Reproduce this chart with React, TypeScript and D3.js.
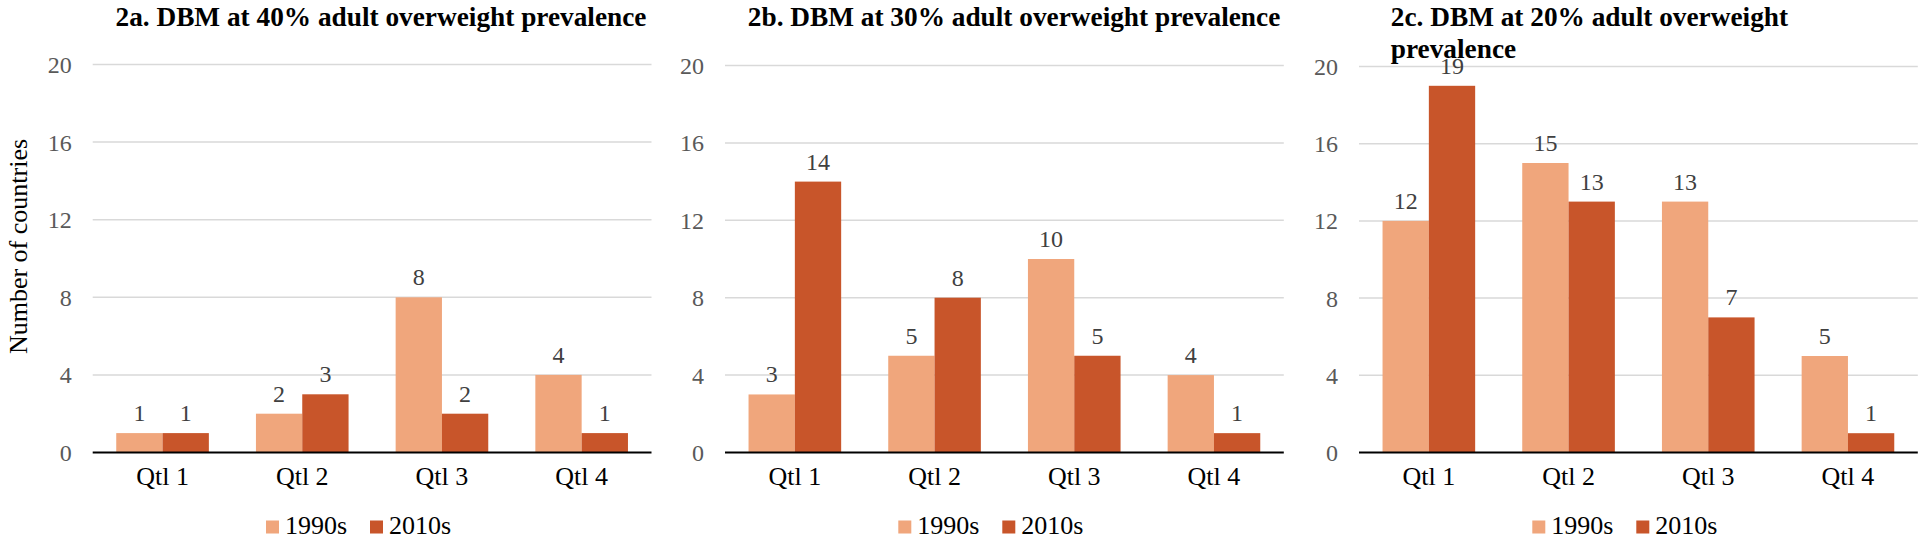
import React from "react";
import * as d3 from "d3";

const categories = ["Qtl 1", "Qtl 2", "Qtl 3", "Qtl 4"];
const seriesNames = ["1990s", "2010s"];
const yTicks = [0, 4, 8, 12, 16, 20];

const panelA1990 = [1, 2, 8, 4];
const panelA2010 = [1, 3, 2, 1];
const panelB1990 = [3, 5, 10, 4];
const panelB2010 = [14, 8, 5, 1];
const panelC1990 = [12, 15, 13, 5];
const panelC2010 = [19, 13, 7, 1];

const titleA = ["2a. DBM at 40% adult overweight prevalence"];
const titleB = ["2b. DBM at 30% adult overweight prevalence"];
const titleC = ["2c. DBM at 20% adult overweight", "prevalence"];

const yAxisTitle = "Number of countries";

const COLORS = ["#F0A67C", "#C8552A"];
const FONT = '"Liberation Serif", "Times New Roman", serif';

const panels = [
  { title: titleA, s1: panelA1990, s2: panelA2010, left: 92.7, top: 64.5, titleX: 115.5 },
  { title: titleB, s1: panelB1990, s2: panelB2010, left: 725, top: 65.5, titleX: 747.8 },
  { title: titleC, s1: panelC1990, s2: panelC2010, left: 1359, top: 66.5, titleX: 1390.8 },
];

const PLOT_W = 558.8;
const BOTTOM = 452.5;

function Panel({ p }: { p: (typeof panels)[number] }) {
  const x0 = d3
    .scaleBand<string>()
    .domain(categories)
    .range([p.left, p.left + PLOT_W])
    .paddingInner(0.337)
    .paddingOuter(0.1685);
  const x1 = d3.scaleBand<string>().domain(seriesNames).range([0, x0.bandwidth()]).padding(0);
  const y = d3.scaleLinear().domain([0, 20]).range([BOTTOM, p.top]);
  const data = [p.s1, p.s2];
  const legendX = p.left + 173.3;

  return (
    <g>
      {p.title.map((t, i) => (
        <text
          key={i}
          x={p.titleX}
          y={26 + i * 32}
          style={{ fontFamily: FONT, fontWeight: "bold", fontSize: "27.3px" }}
          fill="#000"
        >
          {t}
        </text>
      ))}
      {yTicks.map((t) => (
        <g key={t}>
          {t !== 0 && (
            <line
              x1={p.left}
              x2={p.left + PLOT_W}
              y1={y(t)}
              y2={y(t)}
              stroke="#D9D9D9"
              strokeWidth={1.5}
            />
          )}
          <text
            x={p.left - 21}
            y={y(t)}
            dy="0.35em"
            textAnchor="end"
            style={{ fontFamily: FONT, fontSize: "24px" }}
            fill="#595959"
          >
            {t}
          </text>
        </g>
      ))}
      {categories.map((c, ci) =>
        seriesNames.map((s, si) => {
          const v = data[si][ci];
          const bx = (x0(c) ?? 0) + (x1(s) ?? 0);
          return (
            <g key={c + s}>
              <rect
                x={bx}
                y={y(v)}
                width={x1.bandwidth()}
                height={BOTTOM - y(v)}
                fill={COLORS[si]}
              />
              <text
                x={bx + x1.bandwidth() / 2}
                y={y(v) - 12}
                textAnchor="middle"
                style={{ fontFamily: FONT, fontSize: "24px" }}
                fill="#404040"
              >
                {v}
              </text>
            </g>
          );
        })
      )}
      <line
        x1={p.left}
        x2={p.left + PLOT_W}
        y1={BOTTOM}
        y2={BOTTOM}
        stroke="#000"
        strokeWidth={2}
      />
      {categories.map((c) => (
        <text
          key={c}
          x={(x0(c) ?? 0) + x0.bandwidth() / 2}
          y={485}
          textAnchor="middle"
          style={{ fontFamily: FONT, fontSize: "26px" }}
          fill="#000"
        >
          {c}
        </text>
      ))}
      {seriesNames.map((s, i) => (
        <g key={s} transform={`translate(${legendX + i * 104},0)`}>
          <rect x={0} y={520.5} width={13} height={13} fill={COLORS[i]} />
          <text x={19} y={534} style={{ fontFamily: FONT, fontSize: "26px" }} fill="#000">
            {s}
          </text>
        </g>
      ))}
    </g>
  );
}

export default function App() {
  return (
    <svg
      width={1920}
      height={543}
      style={{ position: "absolute", left: 0, top: 0, background: "#fff" }}
    >
      <rect x={0} y={0} width={1920} height={543} fill="#fff" />
      {panels.map((p, i) => (
        <Panel key={i} p={p} />
      ))}
      <text
        transform="translate(27,246.5) rotate(-90)"
        textAnchor="middle"
        style={{ fontFamily: FONT, fontSize: "26px" }}
        fill="#000"
      >
        {yAxisTitle}
      </text>
    </svg>
  );
}
